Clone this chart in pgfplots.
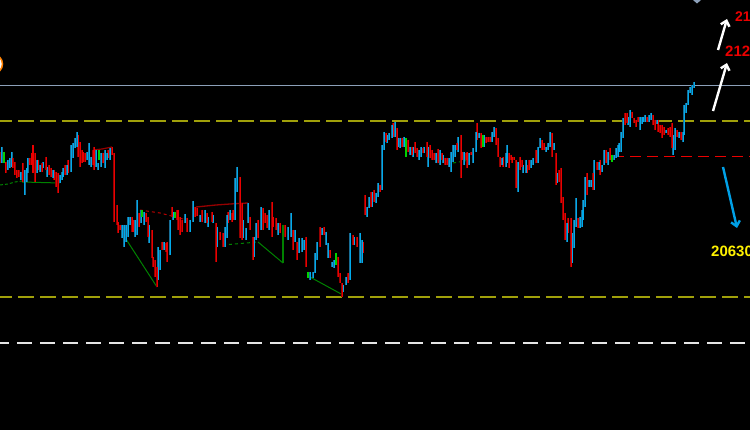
\documentclass[border=0pt]{standalone}
\usepackage{pgfplots}
\pgfplotsset{compat=1.18}
\usepackage{pgfplotstable}
\usepackage{fontspec}
\setmainfont{Liberation Sans}
\usetikzlibrary{arrows.meta}

\definecolor{bluebright}{RGB}{0,170,235}
\definecolor{bluedark}{RGB}{25,110,150}
\definecolor{redbright}{RGB}{235,0,0}
\definecolor{reddark}{RGB}{150,0,0}
\definecolor{greenbright}{RGB}{0,210,0}
\definecolor{greenind}{RGB}{0,130,0}
\definecolor{levelolive}{RGB}{160,160,10}
\definecolor{grayblue}{RGB}{140,160,185}
\definecolor{arrowblue}{RGB}{0,160,230}

% candle ranges: x (pixel column), t = top, b = bottom (screen rows)
\pgfplotstableread{
x t b
2 147 163
8 160 170
10 158 168
12 152 167
21 172 180
25 170 195
27 168 182
28 158 173
37 160 173
40 165 172
43 162 168
47 167 177
53 170 178
60 175 183
62 172 180
63 168 177
67 165 175
71 145 172
73 143 158
75 138 148
77 132 147
87 152 160
89 143 165
91 157 167
96 150 167
98 163 170
101 153 167
105 150 168
107 153 160
110 148 160
122 225 238
124 225 247
126 225 242
128 217 237
130 217 225
135 220 237
137 200 235
141 210 223
144 212 225
149 225 243
158 247 280
160 250 270
164 242 250
170 220 255
173 212 220
185 214 223
190 220 232
193 201 222
200 215 222
205 210 223
208 217 227
213 215 223
217 227 247
225 227 247
227 215 238
230 210 220
235 178 220
237 167 192
243 220 238
246 228 240
248 203 223
254 237 257
256 223 240
261 207 230
269 210 230
278 223 235
288 227 240
291 213 237
295 230 242
299 238 253
302 238 252
304 240 250
310 272 280
313 272 278
315 253 273
317 242 260
322 228 235
326 232 245
328 243 258
332 262 267
334 260 268
343 285 292
346 277 285
350 233 280
354 237 245
360 233 263
362 240 263
367 207 217
369 197 208
372 192 207
376 193 203
378 183 197
382 145 190
384 132 150
387 135 143
389 133 140
392 125 138
395 122 137
398 138 147
400 138 148
404 137 147
410 147 155
413 147 157
419 150 160
421 147 157
424 147 153
428 147 167
436 153 163
440 150 165
443 155 163
449 158 167
451 152 172
453 145 162
455 145 157
458 137 152
464 152 165
469 153 165
473 148 163
476 132 152
479 133 138
484 135 147
492 132 142
494 127 137
502 158 165
506 153 167
507 145 163
518 162 192
523 165 173
526 160 173
531 160 168
533 158 165
538 147 163
540 138 148
546 147 152
548 143 150
550 132 147
554 143 150
557 173 183
567 223 242
572 233 263
574 220 248
576 198 227
580 217 228
582 210 227
583 200 220
585 177 207
589 180 187
591 180 187
594 160 190
599 162 170
602 165 172
604 150 165
608 152 165
614 155 160
616 148 158
618 145 157
619 143 152
621 132 152
623 118 138
628 117 125
630 110 127
640 117 130
642 117 124
643 117 122
645 115 122
649 115 122
651 113 120
657 120 124
666 130 133
673 135 155
675 128 150
679 132 138
683 132 142
684 105 135
686 103 113
688 90 105
690 87 93
692 85 95
694 82 88
}\bluecandles

\pgfplotstableread{
x t b
0 152 163
6 162 173
13 158 168
15 162 175
17 170 178
19 170 177
23 163 182
30 158 165
32 153 165
33 145 173
35 153 182
38 160 170
42 163 172
46 157 170
49 165 175
51 168 177
54 170 180
56 172 187
58 173 193
65 165 175
68 160 173
78 135 157
80 142 167
82 150 163
83 152 162
85 153 162
93 150 165
94 147 170
103 153 163
108 150 158
112 147 155
114 153 222
117 205 225
118 222 233
120 225 230
132 217 232
133 220 232
139 213 227
146 213 222
148 217 237
152 230 258
153 257 267
155 260 277
157 267 287
162 242 250
166 243 252
167 242 262
172 207 217
177 210 220
178 210 230
180 217 235
182 220 232
187 218 232
195 207 217
197 208 216
202 210 222
207 213 223
212 212 222
216 223 262
220 232 240
223 233 247
228 212 223
232 213 222
233 210 220
240 177 238
242 203 240
250 217 230
253 237 260
258 220 238
263 208 230
265 213 223
267 215 228
272 202 237
273 217 227
276 218 230
280 223 233
285 225 237
293 230 250
297 242 260
306 237 267
320 227 247
324 227 235
330 250 258
338 257 277
340 273 283
342 283 297
348 273 283
353 235 245
357 237 247
363 242 253
365 195 215
371 192 207
374 190 202
380 185 192
386 133 142
393 123 137
397 128 150
402 138 147
408 140 152
412 147 155
415 142 153
417 148 157
423 148 153
427 142 157
430 145 158
432 150 160
434 153 160
438 149 163
442 153 160
445 158 165
447 158 165
457 143 150
461 135 178
462 152 160
466 153 160
467 152 168
471 152 155
477 123 140
481 133 148
486 137 143
488 137 142
490 137 142
496 128 145
498 138 157
500 157 167
503 157 167
509 153 168
511 155 160
512 157 163
514 157 160
516 160 188
520 157 170
522 160 167
527 165 173
529 160 170
536 150 163
542 140 150
544 143 150
552 133 157
556 153 185
559 170 182
561 168 203
563 197 220
565 213 240
568 218 233
571 218 267
578 218 228
587 173 195
593 173 190
597 162 170
600 160 175
606 150 163
610 148 160
625 113 125
627 113 123
632 112 118
634 118 123
636 120 127
638 117 122
647 117 122
653 115 125
655 120 130
658 120 132
660 125 133
662 125 138
664 127 135
668 128 135
670 127 137
672 123 148
677 130 137
681 132 140
}\redcandles

\pgfplotstableread{
x t b
4 152 163
99 150 160
142 210 217
175 212 218
308 272 278
336 253 265
406 138 157
483 135 147
612 155 162
}\greencandles

\begin{document}
\begin{tikzpicture}
\begin{axis}[
  scale only axis, width=750pt, height=430pt,
  xmin=0, xmax=750, ymin=0, ymax=430, y dir=reverse,
  hide axis, clip=true,
  axis background/.style={fill=black},
]
% horizontal levels
\addplot[grayblue, line width=1pt] coordinates {(0,86) (750,86)};
\addplot[levelolive, line width=2pt, dash pattern=on 16pt off 6pt] coordinates {(-4,121) (750,121)};
\addplot[levelolive, line width=2pt, dash pattern=on 16pt off 6pt] coordinates {(-4,297) (750,297)};
\addplot[white!90!black, line width=1.4pt, dash pattern=on 15pt off 8pt] coordinates {(-6,343) (750,343)};
\addplot[redbright, line width=1pt, dash pattern=on 11pt off 6pt] coordinates {(613,157) (750,157)};

% indicator lines
\addplot[greenind, line width=1pt, dash pattern=on 3pt off 2pt] coordinates {(0,185) (8,184) (15,182) (22,181)};
\addplot[greenind, line width=1pt] coordinates {(22,182) (60,183)};
\addplot[reddark, line width=1.2pt] coordinates {(93,150) (102,149) (112,147)};
\addplot[greenind, line width=1pt] coordinates {(124,236) (157,287)};
\addplot[redbright!80!black, line width=1pt, dash pattern=on 3pt off 3pt] coordinates {(140,210) (160,213) (183,219)};
\addplot[reddark, line width=1.3pt] coordinates {(196,207) (206,206) (216,205) (230,204) (248,203)};
\addplot[greenind, line width=1pt, dash pattern=on 3pt off 3pt] coordinates {(223,245) (258,242)};
\addplot[greenind, line width=1pt] coordinates {(258,242) (283,263)};
\addplot[greenind, line width=1.2pt] coordinates {(283,225) (283,263)};
\addplot[greenind, line width=1pt] coordinates {(310,277) (343,295)};
\addplot[greenind, line width=1pt, dash pattern=on 3pt off 3pt] coordinates {(453,163) (470,160)};

% candles: dark bodies, then bright centre lines
\addplot[draw=none, mark=none, error bars/.cd, y dir=plus, y explicit, error mark=none,
  error bar style={draw=bluedark, line width=2.8pt}]
  table[x=x, y=t, y error expr=\thisrow{b}-\thisrow{t}] {\bluecandles};
\addplot[draw=none, mark=none, error bars/.cd, y dir=plus, y explicit, error mark=none,
  error bar style={draw=reddark, line width=2.8pt}]
  table[x=x, y=t, y error expr=\thisrow{b}-\thisrow{t}] {\redcandles};
\addplot[draw=none, mark=none, error bars/.cd, y dir=plus, y explicit, error mark=none,
  error bar style={draw=bluebright, line width=1pt}]
  table[x=x, y=t, y error expr=\thisrow{b}-\thisrow{t}] {\bluecandles};
\addplot[draw=none, mark=none, error bars/.cd, y dir=plus, y explicit, error mark=none,
  error bar style={draw=redbright, line width=1pt}]
  table[x=x, y=t, y error expr=\thisrow{b}-\thisrow{t}] {\redcandles};
\addplot[draw=none, mark=none, error bars/.cd, y dir=plus, y explicit, error mark=none,
  error bar style={draw=greenbright, line width=1.6pt}]
  table[x=x, y=t, y error expr=\thisrow{b}-\thisrow{t}] {\greencandles};

% decorations
\draw[overlay, orange, line width=1.5pt, fill=white] (axis cs:-7,64) circle[radius=9.5pt];
\fill[grayblue] (axis cs:693,0) -- (axis cs:701,0) -- (axis cs:697,3.5) -- cycle;
\draw[white, line width=2.4pt, -{Straight Barb[length=5pt,width=9pt]}] (axis cs:718,50) -- (axis cs:727,19);
\draw[white, line width=2.4pt, -{Straight Barb[length=5pt,width=9pt]}] (axis cs:713,111) -- (axis cs:727,63);
\draw[arrowblue, line width=2.4pt, -{Straight Barb[length=5pt,width=9pt]}] (axis cs:723,167) -- (axis cs:737,228);
\node[overlay, anchor=base west, inner sep=0pt, text=redbright, font=\bfseries\fontsize{14}{14}\selectfont] at (axis cs:735,22) {21330};
\node[overlay, anchor=base west, inner sep=0pt, text=redbright, font=\bfseries\fontsize{15}{15}\selectfont] at (axis cs:725,57) {21230};
\node[overlay, anchor=base west, inner sep=0pt, text=yellow, font=\bfseries\fontsize{15}{15}\selectfont] at (axis cs:711,257) {20630};
\end{axis}
\end{tikzpicture}
\end{document}
